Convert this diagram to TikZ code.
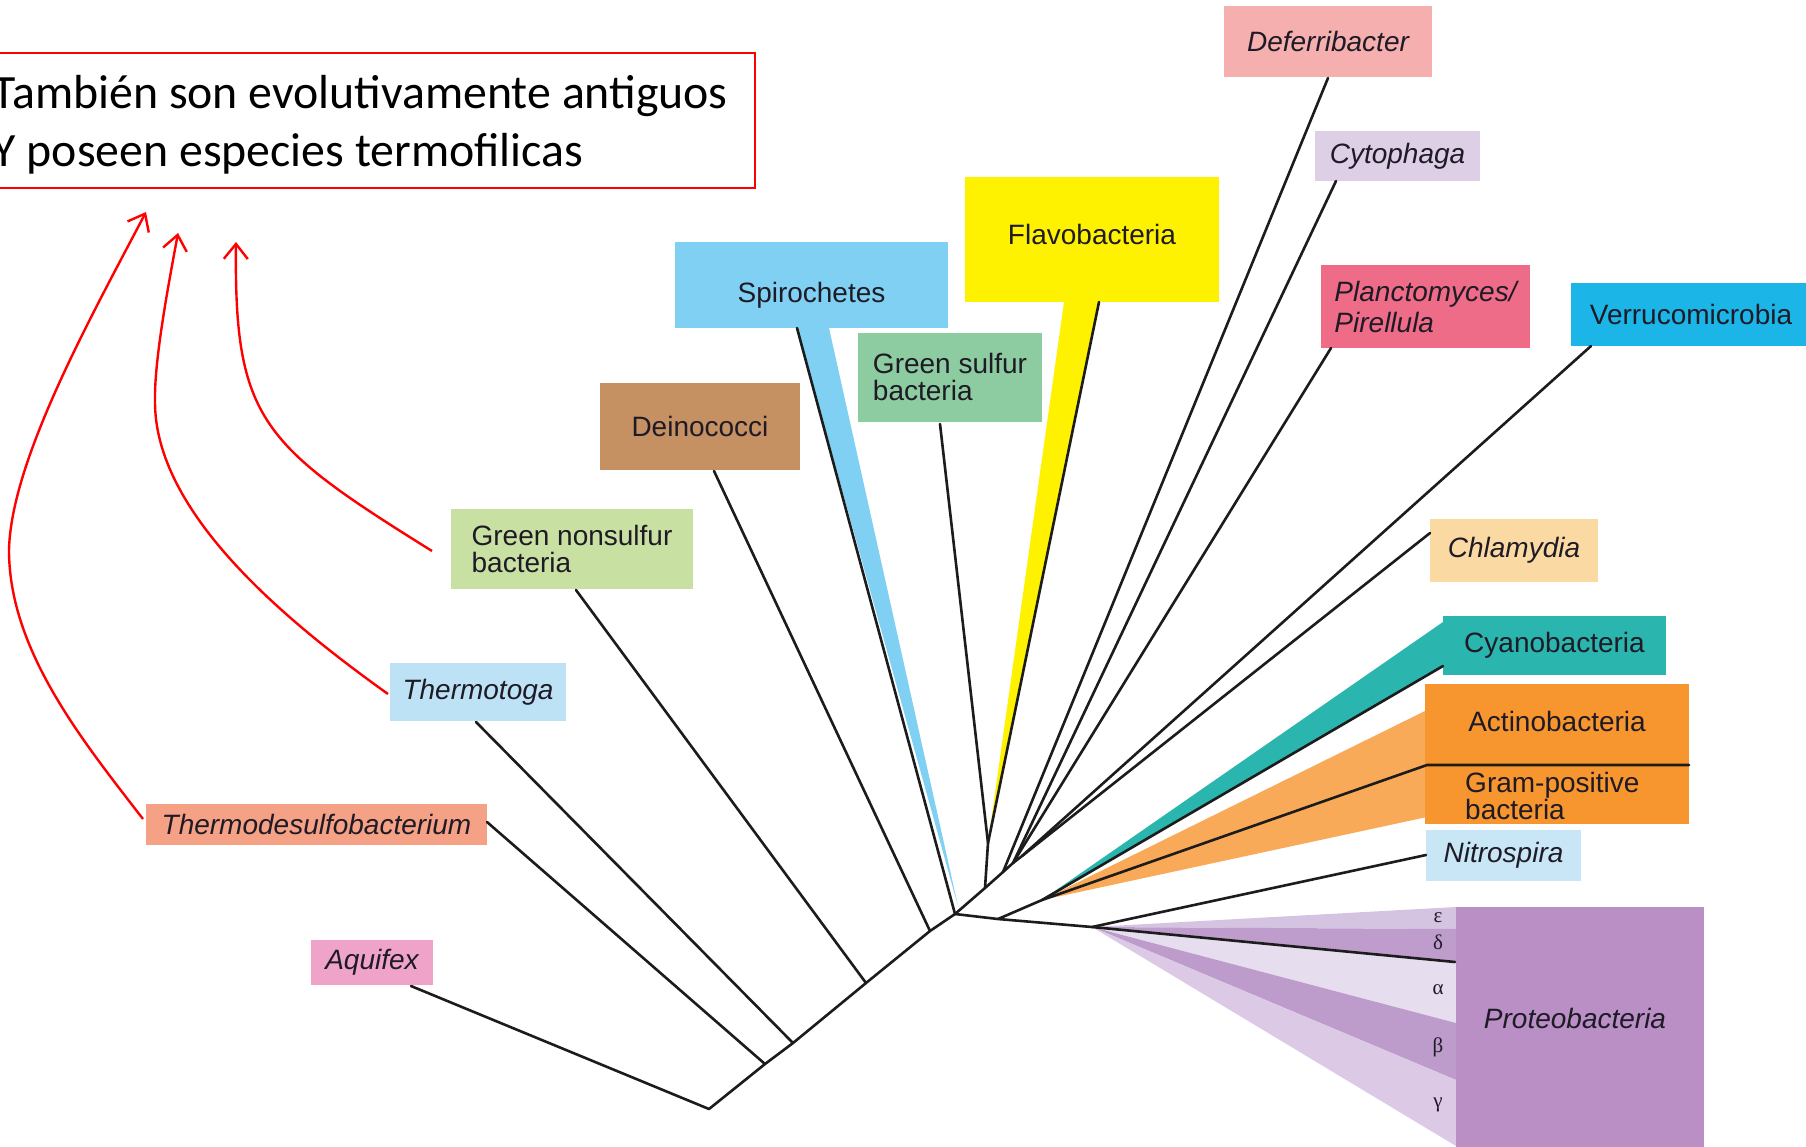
\documentclass[tikz,border=0pt]{standalone}
\usepackage{fontspec}
\setmainfont{Liberation Sans}
\newfontfamily\notefont{Carlito}
\newfontfamily\greekfont{Liberation Serif}
\usetikzlibrary{arrows.meta}

\definecolor{treeline}{HTML}{1C1C1C}
\definecolor{labtext}{HTML}{1F1B26}
\definecolor{noteRed}{HTML}{FF0000}
\definecolor{cDefer}{HTML}{F4AFAE}
\definecolor{cCyto}{HTML}{DCCFE6}
\definecolor{cFlavo}{HTML}{FFF200}
\definecolor{cSpiro}{HTML}{7FD0F2}
\definecolor{cGS}{HTML}{8DCBA0}
\definecolor{cDeino}{HTML}{C59062}
\definecolor{cGNS}{HTML}{C8E0A2}
\definecolor{cThermo}{HTML}{BEE2F5}
\definecolor{cThds}{HTML}{F4A185}
\definecolor{cAqui}{HTML}{F0A3C9}
\definecolor{cPlanc}{HTML}{EE6C88}
\definecolor{cVerru}{HTML}{1BB5E8}
\definecolor{cChlam}{HTML}{FBD9A3}
\definecolor{cCyano}{HTML}{2AB5AE}
\definecolor{cOrange}{HTML}{F7962E}
\definecolor{cOrangeW}{HTML}{F9AA58}
\definecolor{cNitro}{HTML}{C8E6F6}
\definecolor{cProteo}{HTML}{B98FC6}
\definecolor{cEps}{HTML}{D5C3E2}
\definecolor{cDelta}{HTML}{BE9DCC}
\definecolor{cAlpha}{HTML}{E6DEEE}
\definecolor{cBeta}{HTML}{BD9BCB}
\definecolor{cGamma}{HTML}{DCC9E6}

\tikzset{
  branch/.style={draw=treeline, line width=2.6pt, line join=round, line cap=round},
  taxon/.style={rectangle, inner sep=0pt, text=labtext, align=center,
                font=\fontsize{28}{27}\selectfont},
  taxit/.style={taxon, font=\fontsize{28}{27}\selectfont\itshape},
  greek/.style={inner sep=0pt, text=labtext, font=\greekfont\fontsize{21}{21}\selectfont},
  notearrow/.style={draw=noteRed, line width=2.4pt,
                    -{Straight Barb[length=15pt,width=24pt]}},
}

\begin{document}
\begin{tikzpicture}[x=1pt,y=-1pt]
\useasboundingbox (0,0) rectangle (1806,1146);
\clip (0,0) rectangle (1806,1146);
\fill[white] (0,0) rectangle (1806,1146);

% ---------- junctions of the tree ----------
\coordinate (r0)  at (709,1109);
\coordinate (j1)  at (765,1064);
\coordinate (j2)  at (793,1043);
\coordinate (j3)  at (866,983);
\coordinate (j4)  at (930,931);
\coordinate (hub) at (955,914);
\coordinate (yj)  at (985,888);
\coordinate (dj)  at (1003,872);
\coordinate (cj)  at (1013,863);
\coordinate (vj)  at (1022,856);
\coordinate (fy)  at (988,843);
\coordinate (q)   at (998,919);
\coordinate (cg)  at (1042,900);
\coordinate (po)  at (1092,927);

% ---------- where the branches reach their boxes ----------
\coordinate (aquiA)  at (411,986);
\coordinate (thdsA)  at (487,822);
\coordinate (thtA)   at (476,722);
\coordinate (gnsA)   at (576,590);
\coordinate (deinoA) at (714,471);
\coordinate (spiroA) at (797,328);
\coordinate (spiroB) at (829,328);
\coordinate (spiroT) at (958,906);
\coordinate (gsA)    at (940,424);
\coordinate (flavoA) at (1099,302);
\coordinate (flavoB) at (1064,302);
\coordinate (deferA) at (1328,78);
\coordinate (cytoA)  at (1336,181);
\coordinate (plancA) at (1331,348);
\coordinate (verruA) at (1591,346);
\coordinate (chlamA) at (1430,533);
\coordinate (cyanoA) at (1443,666);
\coordinate (cyanoB) at (1443,622);
\coordinate (actA)   at (1427,765);
\coordinate (actB)   at (1689,765);
\coordinate (actW1)  at (1427,710);
\coordinate (actW2)  at (1427,817);
\coordinate (nitroA) at (1426,855);
\coordinate (proA)   at (1455,962);

% ---------- coloured wedges ----------
\fill[cSpiro] (spiroA) -- (spiroB) -- (spiroT) -- cycle;
\fill[cFlavo] (flavoB) -- (flavoA) -- (fy) -- cycle;
\fill[cCyano] (cg) -- (cyanoB) -- (cyanoA) -- cycle;
\fill[cOrangeW] (cg) -- (actW1) -- (actW2) -- cycle;
\fill[cEps]   (po) -- (1456,907) -- (1456,929) -- cycle;
\fill[cDelta] (po) -- (1456,929) -- (1456,962) -- cycle;
\fill[cAlpha] (po) -- (1456,962) -- (1456,1023) -- cycle;
\fill[cBeta]  (po) -- (1456,1023) -- (1456,1080) -- cycle;
\fill[cGamma] (po) -- (1456,1080) -- (1456,1146) -- cycle;

% ---------- taxon boxes ----------
\node[taxit, fill=cDefer, minimum width=208, minimum height=71] (defer) at (1328,41.5) {Deferribacter};
\node[taxit, fill=cCyto, minimum width=165, minimum height=50] (cyto) at (1397.5,156) {Cytophaga};
\node[taxon, fill=cFlavo, minimum width=254, minimum height=125,
      text height=20.4pt, text depth=10pt] (flavo) at (1092,239.5) {Flavobacteria};
\node[taxon, fill=cSpiro, minimum width=273, minimum height=86,
      text height=40pt, text depth=6pt] (spiro) at (811.5,285) {Spirochetes};
\node[taxon, align=left, fill=cGS, minimum width=184, minimum height=89] (gs) at (950,377) {Green sulfur\\bacteria};
\node[taxon, fill=cDeino, minimum width=200, minimum height=87] (deino) at (700,426.5) {Deinococci};
\node[taxon, align=left, fill=cGNS, minimum width=242, minimum height=80] (gns) at (572,549) {Green nonsulfur\\bacteria};
\node[taxit, fill=cThermo, minimum width=176, minimum height=58] (tht) at (478,692) {Thermotoga};
\node[taxit, fill=cThds, minimum width=341, minimum height=41] (thds) at (316.5,824.5) {Thermodesulfobacterium};
\node[taxit, fill=cAqui, minimum width=122, minimum height=45] (aqui) at (372,962.5) {Aquifex};
\node[taxit, align=left, fill=cPlanc, minimum width=209, minimum height=83,
      font=\fontsize{28}{31}\selectfont\itshape] (planc) at (1425.5,306.5) {Planctomyces/\\Pirellula};
\node[taxon, fill=cVerru, minimum width=240, minimum height=63] (verru) at (1691,314.5) {Verrucomicrobia};
\node[taxit, fill=cChlam, minimum width=168, minimum height=63] (chlam) at (1514,550.5) {Chlamydia};
\node[taxon, fill=cCyano, minimum width=223, minimum height=59] (cyano) at (1554.5,645.5) {Cyanobacteria};
\node[fill=cOrange, minimum width=264, minimum height=140, inner sep=0pt] (grampos) at (1557,754) {};
\node[taxon] (actino) at (1557,721) {Actinobacteria};
\node[taxon, align=left, anchor=west] (gramlab) at (1465,796) {Gram-positive\\bacteria};
\node[taxit, fill=cNitro, minimum width=155, minimum height=51] (nitro) at (1503.5,855.5) {Nitrospira};
\node[fill=cProteo, minimum width=248, minimum height=280, inner sep=0pt] (proteoBox) at (1580,1047) {};
\node[taxit] (proteo) at (1575,1018) {Proteobacteria};

% subgroup letters of the Proteobacteria fan
\node[greek] (eps)   at (1438,918)  {ε};
\node[greek] (delta) at (1438,942)  {δ};
\node[greek] (alpha) at (1438,990)  {α};
\node[greek] (beta)  at (1438,1047) {β};
\node[greek] (gamma) at (1438,1105) {γ};

% ---------- branches ----------
\draw[branch] (aquiA) -- (r0) -- (j1) -- (j2) -- (j3) -- (j4) -- (hub) -- (yj) -- (dj) -- (cj) -- (vj);
\draw[branch] (thdsA) -- (j1);
\draw[branch] (thtA) -- (j2);
\draw[branch] (gnsA) -- (j3);
\draw[branch] (deinoA) -- (j4);
\draw[branch] (spiroA) -- (hub);
\draw[branch] (gsA) -- (fy) -- (yj);
\draw[branch] (flavoA) -- (fy);
\draw[branch] (deferA) -- (dj);
\draw[branch] (cytoA) -- (cj);
\draw[branch] (plancA) -- (cj);
\draw[branch] (verruA) -- (vj);
\draw[branch] (chlamA) -- (vj);
\draw[branch] (hub) -- (q) -- (po) -- (proA);
\draw[branch] (q) -- (cg) -- (cyanoA);
\draw[branch] (cg) -- (actA) -- (actB);
\draw[branch] (po) -- (nitroA);

% ---------- note and its arrows ----------
\draw[noteRed, line width=2pt] (-40,53) rectangle (755,188);
\node[align=left, inner sep=0pt, anchor=east, text=black,
      font=\notefont\fontsize{47.8}{57.5}\selectfont] (note) at (728,125)
      {También son evolutivamente antiguos\\Y poseen especies termofilicas};

\coordinate (startA) at (143,819);
\coordinate (tipA)   at (146,212);
\coordinate (startB) at (388,694);
\coordinate (tipB)   at (178,233);
\coordinate (startC) at (432,551);
\coordinate (tipC)   at (236,242);

\draw[notearrow] (startA) .. controls (82,740) and (9,650) .. (9,550)
                 .. controls (11,460) and (91,317) .. (tipA);
\draw[notearrow] (startB) .. controls (283,619) and (155,512) .. (155,402)
                 .. controls (154,360) and (169,282) .. (tipB);
\draw[notearrow] (startC) .. controls (262,445) and (234,420) .. (tipC);
\end{tikzpicture}
\end{document}
